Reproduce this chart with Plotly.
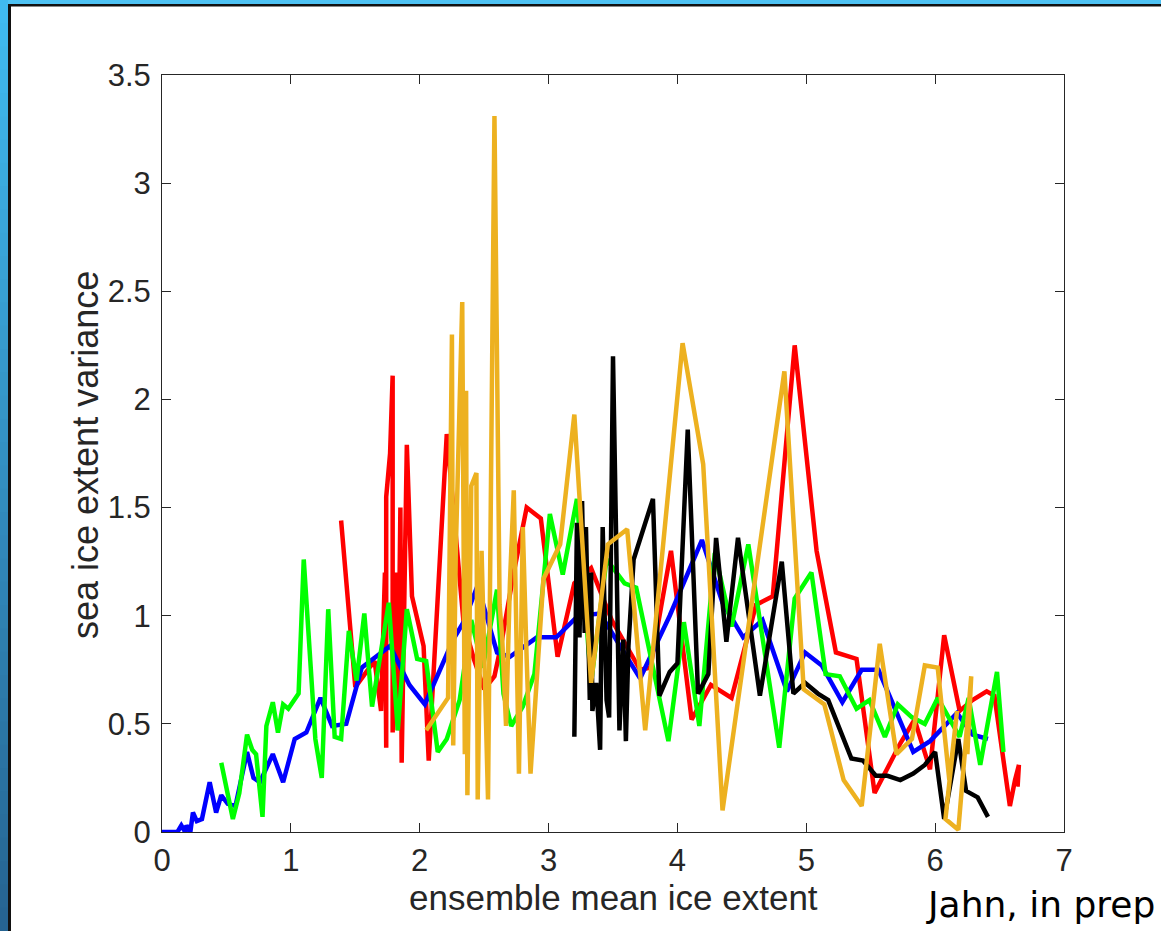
import plotly.graph_objects as go

# ---- data: (ensemble mean ice extent, sea ice extent variance) per run ----
blue_x = [0.00, 0.12, 0.15, 0.18, 0.19, 0.22, 0.24, 0.27, 0.31, 0.37, 0.42, 0.46, 0.51, 0.57,
          0.66, 0.71, 0.76, 0.86, 0.94, 1.03, 1.12, 1.23, 1.32, 1.43, 1.55, 1.77, 1.92, 2.04,
          2.26, 2.34, 2.45, 2.60, 2.70, 2.91, 3.06, 3.23, 3.40, 3.53, 3.71, 3.94, 4.19, 4.35,
          4.51, 4.66, 4.85, 4.99, 5.12, 5.28, 5.43, 5.56, 5.83, 5.96, 6.17, 6.29, 6.41]
blue_y = [0.00, 0.00, 0.03, 0.00, 0.03, 0.00, 0.09, 0.05, 0.06, 0.23, 0.09, 0.17, 0.13, 0.12,
          0.37, 0.25, 0.23, 0.36, 0.23, 0.43, 0.46, 0.62, 0.49, 0.50, 0.76, 0.86, 0.68, 0.59,
          0.89, 0.97, 1.14, 0.83, 0.81, 0.90, 0.90, 1.00, 1.01, 0.88, 0.71, 1.00, 1.35, 1.06,
          0.90, 0.98, 0.65, 0.83, 0.77, 0.60, 0.75, 0.75, 0.37, 0.42, 0.55, 0.45, 0.43]

red_x = [1.39, 1.50, 1.61, 1.65, 1.70, 1.73, 1.74, 1.74, 1.77, 1.79, 1.79, 1.82, 1.83, 1.85,
         1.86, 1.90, 1.94, 2.03, 2.07, 2.21, 2.34, 2.42, 2.50, 2.58, 2.63, 2.73, 2.83, 2.94,
         3.07, 3.20, 3.33, 3.49, 3.71, 3.79, 3.95, 4.11, 4.26, 4.42, 4.61, 4.74, 4.91, 5.08,
         5.23, 5.39, 5.53, 5.73, 5.84, 5.96, 6.07, 6.19, 6.29, 6.40, 6.46, 6.58, 6.62, 6.65, 6.64]
red_y = [1.44, 0.67, 0.76, 0.79, 0.56, 1.20, 0.39, 1.55, 1.75, 2.11, 0.46, 1.20, 0.47, 1.50,
         0.32, 1.79, 1.09, 0.86, 0.33, 1.84, 0.97, 0.80, 0.66, 0.72, 0.86, 1.20, 1.50, 1.45,
         0.81, 1.15, 1.22, 0.98, 0.75, 0.76, 1.30, 0.52, 0.68, 0.62, 1.05, 1.09, 2.25, 1.30,
         0.83, 0.80, 0.18, 0.41, 0.52, 0.29, 0.91, 0.56, 0.61, 0.65, 0.63, 0.12, 0.24, 0.31, 0.21]

green_x = [0.46, 0.55, 0.60, 0.66, 0.70, 0.73, 0.78, 0.81, 0.86, 0.90, 0.94, 0.98, 1.06, 1.10,
           1.19, 1.24, 1.29, 1.34, 1.39, 1.45, 1.51, 1.57, 1.63, 1.76, 1.83, 1.90, 1.98, 2.05,
           2.14, 2.21, 2.31, 2.40, 2.49, 2.60, 2.65, 2.71, 2.80, 2.89, 2.96, 3.01, 3.11, 3.22,
           3.33, 3.45, 3.59, 3.68, 3.93, 4.05, 4.17, 4.29, 4.42, 4.55, 4.79, 4.91, 5.04, 5.15,
           5.26, 5.39, 5.49, 5.61, 5.71, 5.82, 5.92, 6.02, 6.19, 6.26, 6.35, 6.48, 6.53]
green_y = [0.32, 0.06, 0.18, 0.45, 0.38, 0.36, 0.07, 0.49, 0.60, 0.46, 0.59, 0.57, 0.64, 1.26,
           0.43, 0.25, 1.03, 0.44, 0.43, 0.93, 0.70, 1.01, 0.58, 1.06, 0.47, 1.03, 0.80, 0.79,
           0.37, 0.43, 0.61, 0.98, 0.76, 1.12, 0.64, 0.49, 0.58, 0.73, 1.16, 1.47, 1.19, 1.54,
           0.69, 1.26, 1.15, 1.13, 0.42, 0.97, 0.49, 1.29, 0.95, 1.33, 0.39, 1.08, 1.20, 0.73,
           0.72, 0.57, 0.61, 0.44, 0.59, 0.53, 0.50, 0.62, 0.44, 0.62, 0.31, 0.74, 0.37]

black_x = [3.20, 3.22, 3.24, 3.26, 3.28, 3.29, 3.32, 3.33, 3.34, 3.37, 3.40, 3.42, 3.45, 3.47,
           3.50, 3.53, 3.55, 3.58, 3.60, 3.62, 3.66, 3.81, 3.86, 3.94, 4.00, 4.08, 4.16, 4.24,
           4.30, 4.38, 4.47, 4.64, 4.81, 4.90, 4.99, 5.09, 5.17, 5.35, 5.44, 5.54, 5.63, 5.73,
           5.83, 5.92, 6.00, 6.07, 6.18, 6.24, 6.33, 6.41]
black_y = [0.44, 1.43, 0.90, 1.53, 0.92, 1.41, 0.61, 1.20, 0.56, 0.69, 0.38, 1.41, 0.61, 0.53,
           2.20, 1.04, 0.47, 0.89, 0.42, 0.86, 1.26, 1.54, 0.63, 0.74, 0.78, 1.86, 0.64, 0.73,
           1.36, 0.88, 1.36, 0.63, 1.25, 0.64, 0.69, 0.64, 0.61, 0.34, 0.33, 0.26, 0.26, 0.24,
           0.27, 0.31, 0.37, 0.06, 0.43, 0.19, 0.16, 0.07]

orange_x = [2.05, 2.22, 2.25, 2.26, 2.28, 2.33, 2.35, 2.36, 2.37, 2.40, 2.44, 2.45, 2.48, 2.53,
            2.58, 2.62, 2.64, 2.67, 2.70, 2.73, 2.77, 2.80, 2.83, 2.86, 2.96, 3.09, 3.20, 3.33,
            3.46, 3.61, 3.75, 4.04, 4.20, 4.35, 4.83, 4.98, 5.14, 5.29, 5.43, 5.57, 5.70, 5.82,
            5.92, 6.02, 6.11, 6.17, 6.08, 6.18, 6.28, 6.25]
orange_y = [0.47, 0.62, 2.30, 0.40, 1.30, 2.45, 0.36, 2.04, 0.17, 1.60, 1.66, 0.15, 1.30, 0.15,
            3.31, 1.05, 0.90, 0.49, 1.15, 1.58, 0.27, 1.41, 0.80, 0.27, 1.17, 1.33, 1.93, 0.69,
            1.33, 1.40, 0.47, 2.26, 1.70, 0.10, 2.13, 0.66, 0.59, 0.24, 0.12, 0.87, 0.36, 0.43,
            0.77, 0.76, 0.24, 0.56, 0.06, 0.01, 0.72, 0.36]

x_ticks = [0, 1, 2, 3, 4, 5, 6, 7]
y_ticks = [0, 0.5, 1, 1.5, 2, 2.5, 3, 3.5]
y_tick_text = ["0", "0.5", "1", "1.5", "2", "2.5", "3", "3.5"]

series = [
    (red_x, red_y, "#FF0000"),
    (blue_x, blue_y, "#0000FF"),
    (green_x, green_y, "#00FF00"),
    (black_x, black_y, "#000000"),
    (orange_x, orange_y, "#EDB120"),
]

W, H = 1161, 931
ML, MR, MT, MB = 162, 97, 75, 99
PW, PH = W - ML - MR, H - MT - MB

fig = go.Figure()
for xs, ys, col in series:
    fig.add_trace(go.Scatter(x=xs, y=ys, mode="lines",
                             line=dict(color=col, width=4.5), showlegend=False,
                             hoverinfo="skip"))

axis_col = "#262626"


def px2paper_x(px):
    return (px - ML) / PW


def px2paper_y(py):
    return 1 - (py - MT) / PH


shapes = []
# slide frame: blue gradient strip on the left, light strip on top, dark rules
n_bands = 40
top_rgb = (64, 186, 240)
bot_rgb = (38, 100, 146)
for i in range(n_bands):
    t = i / (n_bands - 1)
    r = round(top_rgb[0] + (bot_rgb[0] - top_rgb[0]) * t)
    g = round(top_rgb[1] + (bot_rgb[1] - top_rgb[1]) * t)
    b = round(top_rgb[2] + (bot_rgb[2] - top_rgb[2]) * t)
    y0 = H * i / n_bands
    y1 = H * (i + 1) / n_bands + 1
    shapes.append(dict(type="rect", xref="paper", yref="paper", layer="above",
                       x0=px2paper_x(0), x1=px2paper_x(8),
                       y0=px2paper_y(y1), y1=px2paper_y(y0),
                       line=dict(width=0), fillcolor=f"rgb({r},{g},{b})"))
shapes.append(dict(type="rect", xref="paper", yref="paper", layer="above",
                   x0=px2paper_x(8), x1=px2paper_x(W),
                   y0=px2paper_y(4), y1=px2paper_y(0),
                   line=dict(width=0), fillcolor="rgb(78,194,243)"))
shapes.append(dict(type="rect", xref="paper", yref="paper", layer="above",
                   x0=px2paper_x(8), x1=px2paper_x(11),
                   y0=px2paper_y(H), y1=px2paper_y(4),
                   line=dict(width=0), fillcolor="#111111"))
shapes.append(dict(type="rect", xref="paper", yref="paper", layer="above",
                   x0=px2paper_x(8), x1=px2paper_x(W),
                   y0=px2paper_y(6.5), y1=px2paper_y(4),
                   line=dict(width=0), fillcolor="#111111"))

annotations = [
    # axis titles
    dict(text="ensemble mean ice extent", xref="paper", yref="paper",
         x=px2paper_x(613), y=px2paper_y(877), xanchor="center", yanchor="top",
         showarrow=False, borderpad=0,
         font=dict(family="Liberation Sans, Arial, sans-serif", size=35, color=axis_col)),
    dict(text="sea ice extent variance", xref="paper", yref="paper",
         x=px2paper_x(85), y=px2paper_y(455), xanchor="center", yanchor="middle",
         textangle=-90, showarrow=False, borderpad=0,
         font=dict(family="Liberation Sans, Arial, sans-serif", size=36, color=axis_col)),
    # credit line
    dict(text="Jahn, in prep", xref="paper", yref="paper",
         x=px2paper_x(1156), y=px2paper_y(926),
         xanchor="right", yanchor="bottom", showarrow=False, borderpad=0,
         font=dict(family="DejaVu Sans", size=36, color="#000000")),
]

fig.update_layout(
    width=W, height=H,
    margin=dict(l=ML, r=MR, t=MT, b=MB, pad=0),
    paper_bgcolor="white", plot_bgcolor="white",
    font=dict(family="Liberation Sans, Arial, sans-serif", color=axis_col),
    shapes=shapes,
    annotations=annotations,
)

fig.update_xaxes(range=[0, 7], tickvals=x_ticks, ticktext=[str(v) for v in x_ticks],
                 showgrid=False, zeroline=False, showline=True, linecolor=axis_col,
                 linewidth=1, mirror="ticks", ticks="inside", ticklen=9, tickwidth=1,
                 tickcolor=axis_col, tickfont=dict(size=31, color=axis_col),
                 ticklabelstandoff=1)
fig.update_yaxes(range=[0, 3.5], tickvals=y_ticks, ticktext=y_tick_text,
                 showgrid=False, zeroline=False, showline=True, linecolor=axis_col,
                 linewidth=1, mirror="ticks", ticks="inside", ticklen=9, tickwidth=1,
                 tickcolor=axis_col, tickfont=dict(size=31, color=axis_col),
                 ticklabelstandoff=4)

fig.write_html("out.html")
